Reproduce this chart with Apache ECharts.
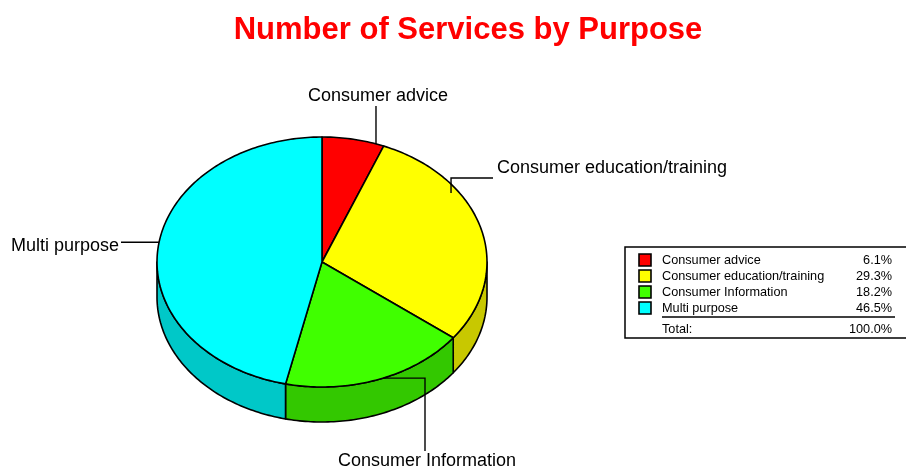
<!DOCTYPE html>
<html>
<head>
<meta charset="utf-8">
<script src="https://cdn.jsdelivr.net/npm/echarts@6/dist/echarts.min.js"></script>
<style>
  html, body { margin: 0; padding: 0; background: #fff; }
  #chart { width: 906px; height: 467px; }
</style>
</head>
<body>
<div id="chart"></div>
<script>
// Services by purpose (percent of total)
const categories = ['Consumer advice', 'Consumer education/training', 'Consumer Information', 'Multi purpose'];
const shares = [6.1, 29.3, 18.2, 46.5];
const totalText = '100.0%';

// Face and wall colours of each slice
const topColors = ['#FF0000', '#FFFF00', '#40FF00', '#00FFFF'];
const sideColors = ['#C80000', '#C8C800', '#33C800', '#00C8C8'];

const FONT = '"Liberation Sans", Arial, sans-serif';

// Tilted pie geometry
const geo = { cx: 322, cy: 262, rx: 165, ry: 125, depth: 35 };

// Leader lines: anchor on the top face (degrees clockwise from 12 o'clock, radius factor),
// then a list of straight segments to the label.
const labelLayout = [
  { deg: 19.1, r: 1.0, path: [['v', 106]], text: { x: 378, y: 96, align: 'center' } },
  { deg: 54.8, r: 0.957, path: [['v', 178], ['h', 493]], text: { x: 497, y: 168, align: 'left' } },
  { deg: 158.3, r: 1.0, path: [['h', 425], ['v', 451]], text: { x: 427, y: 461, align: 'center' } },
  { deg: 279.1, r: 1.0, path: [['h', 121]], text: { x: 119, y: 246, align: 'right' } }
];

const total = shares.reduce((a, b) => a + b, 0);

function pt(deg, r, dy) {
  const t = deg * Math.PI / 180;
  return [geo.cx + geo.rx * r * Math.sin(t), geo.cy - geo.ry * r * Math.cos(t) + (dy || 0)];
}

function arc(a1, a2, dy) {
  const pts = [];
  const n = Math.max(2, Math.ceil((a2 - a1) / 1));
  for (let k = 0; k <= n; k++) pts.push(pt(a1 + (a2 - a1) * k / n, 1, dy));
  return pts;
}

function renderSlice(params, api) {
  const i = params.dataIndex;
  let start = 0;
  for (let k = 0; k < i; k++) start += shares[k];
  const a1 = start / total * 360;
  const a2 = (start + api.value(0)) / total * 360;
  const children = [];

  // front wall (visible between 90° and 270°)
  const s1 = Math.max(a1, 90), s2 = Math.min(a2, 270);
  if (s2 > s1) {
    const topEdge = arc(s1, s2, 0);
    const botEdge = arc(s1, s2, geo.depth).reverse();
    children.push({
      type: 'polygon', z2: 1,
      shape: { points: topEdge.concat(botEdge) },
      style: { fill: sideColors[i], stroke: '#000', lineWidth: 1.6, lineJoin: 'round' }
    });
  }

  // top face
  children.push({
    type: 'polygon', z2: 5,
    shape: { points: [[geo.cx, geo.cy]].concat(arc(a1, a2, 0)) },
    style: { fill: topColors[i], stroke: '#000', lineWidth: 1.6, lineJoin: 'round' }
  });

  // leader line and label
  const L = labelLayout[i];
  const pts = [pt(L.deg, L.r, 0)];
  L.path.forEach(function (seg) {
    const last = pts[pts.length - 1];
    pts.push(seg[0] === 'v' ? [last[0], seg[1]] : [seg[1], last[1]]);
  });
  children.push({
    type: 'polyline', z2: 10,
    shape: { points: pts },
    style: { fill: null, stroke: '#000', lineWidth: 1.4 }
  });
  children.push({
    type: 'text', z2: 10,
    x: L.text.x, y: L.text.y,
    style: {
      text: categories[i], fill: '#000', font: '18px ' + FONT,
      align: L.text.align, verticalAlign: 'middle'
    }
  });

  return { type: 'group', children: children };
}

// Legend table built from the same arrays (its box runs past the right edge)
const legendFont = '12.7px ' + FONT;
const legendBox = { x: 625, y: 247, w: 300, h: 91, row0: 260, rowH: 16 };
const legendChildren = [{
  type: 'rect',
  shape: { x: legendBox.x, y: legendBox.y, width: legendBox.w, height: legendBox.h },
  style: { fill: '#fff', stroke: '#000', lineWidth: 1.5 }
}];
categories.forEach(function (name, i) {
  const yc = legendBox.row0 + i * legendBox.rowH;
  legendChildren.push({
    type: 'rect',
    shape: { x: 639, y: yc - 6, width: 12, height: 12 },
    style: { fill: topColors[i], stroke: '#000', lineWidth: 1.6 }
  });
  legendChildren.push({
    type: 'text', x: 662, y: yc,
    style: { text: name, font: legendFont, fill: '#000', verticalAlign: 'middle' }
  });
  legendChildren.push({
    type: 'text', x: 892, y: yc,
    style: { text: shares[i].toFixed(1) + '%', font: legendFont, fill: '#000', align: 'right', verticalAlign: 'middle' }
  });
});
legendChildren.push({
  type: 'line',
  shape: { x1: 662, y1: 317, x2: 895, y2: 317 },
  style: { stroke: '#000', lineWidth: 1.4 }
});
legendChildren.push({
  type: 'text', x: 662, y: 329,
  style: { text: 'Total:', font: legendFont, fill: '#000', verticalAlign: 'middle' }
});
legendChildren.push({
  type: 'text', x: 892, y: 329,
  style: { text: totalText, font: legendFont, fill: '#000', align: 'right', verticalAlign: 'middle' }
});

const chart = echarts.init(document.getElementById('chart'), null, { renderer: 'canvas' });
chart.setOption({
  backgroundColor: '#fff',
  animation: false,
  series: [{
    type: 'custom',
    coordinateSystem: 'none',
    renderItem: renderSlice,
    data: shares.map(function (v, i) { return { name: categories[i], value: [v] }; })
  }],
  graphic: [
    {
      type: 'text', x: 468, y: 30,
      style: {
        text: 'Number of Services by Purpose', fill: '#FF0000',
        font: 'bold 31px ' + FONT, align: 'center', verticalAlign: 'middle'
      }
    },
    { type: 'group', children: legendChildren }
  ]
});
</script>
</body>
</html>
